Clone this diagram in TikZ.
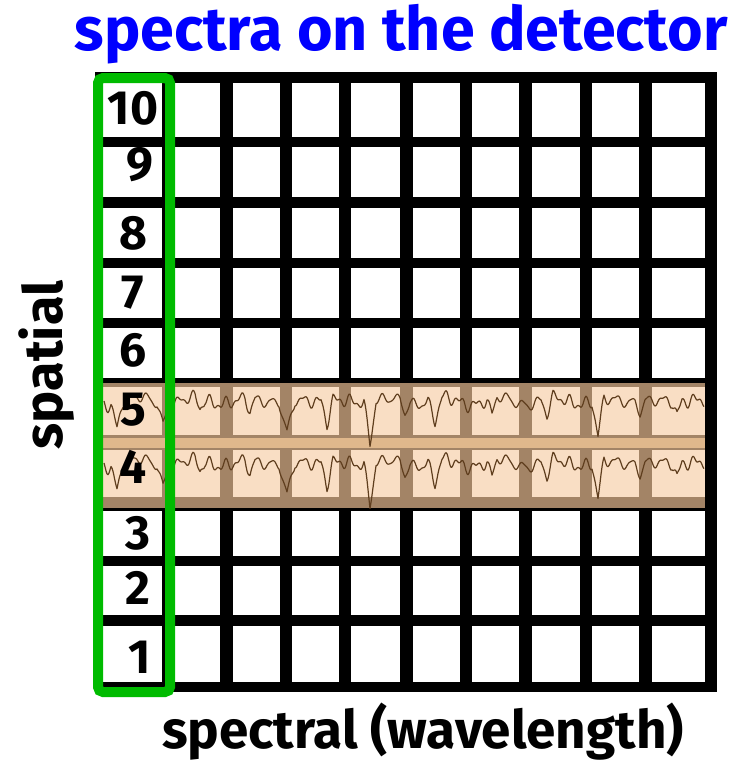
\documentclass[tikz,border=0pt]{standalone}
\usepackage{fontspec}
\setmainfont{Fira Sans}
\definecolor{titleblue}{RGB}{0,0,255}
\definecolor{boxgreen}{RGB}{0,187,0}
\definecolor{bandbrown}{RGB}{163,132,102}
\definecolor{bandpeach}{RGB}{249,222,196}
\definecolor{bandmid}{RGB}{224,184,140}
\definecolor{specline}{RGB}{95,62,30}

\begin{document}
\begin{tikzpicture}[x=1pt, y=-1pt, every node/.style={font=\bfseries},
  declare function={dip(\u,\c,\d,\w)=\d*max(0,1-abs(\u-\c)/\w);
    spec(\u)=4.5*sin(23*\u)+4*sin(25*\u)*sin(19*\u+30)+2.5*sin(17*\u+10)*sin(24*\u)+2*sin(7*\u)
      +dip(\u,13,24,6)+dip(\u,59,20,6)+dip(\u,96,10,5)+dip(\u,146,12,5)
      +dip(\u,183,32,8)+dip(\u,223,22,6)+dip(\u,266,42,6)+dip(\u,301,10,5)
      +dip(\u,331,22,7)+dip(\u,388,18,5)+dip(\u,443,16,6)+dip(\u,494,36,6)
      +dip(\u,536,10,5)+dip(\u,573,14,5);}]
  \useasboundingbox (0,0) rectangle (731,761);
  % detector pixels
  \fill[black] (95,72) rectangle (717,692);
  \foreach \t/\b in {83/137, 147/197, 208/258, 268/318, 328/378, 511/556, 566/615, 626/682} {
    \foreach \l/\r in {103/162, 174/220, 233/280, 292/339, 351/400, 413/460, 472/519, 532/580, 592/639, 652/705} {
      \fill[white] (\l,\t) rectangle (\r,\b);
    }
  }
  % rows 5 and 4 carry the spectra
  \fill[bandbrown] (102,383) rectangle (705,508);
  \foreach \t/\b in {387/435, 450/497} {
    \foreach \l/\r in {103/162, 174/220, 233/280, 292/339, 351/400, 413/460, 472/519, 532/580, 592/639, 652/705} {
      \fill[bandpeach] (\l,\t) rectangle (\r,\b);
    }
  }
  \fill[bandmid] (102,438) rectangle (705,448);
  \foreach \yb in {401, 463} {
    \draw[specline, line width=1.2, line join=round] plot[domain=0:600, samples=601] ({104+\x}, {\yb+spec(\x)});
  }
  % row numbers
  \foreach \n/\x/\y in {10/133/108, 9/140/165, 8/133/233, 7/133/293, 6/133/350, 5/133/410, 4/133/467, 3/138/533, 2/138/588, 1/140/657} {
    \node[font=\fontsize{48}{50}\bfseries] (row\n) at (\x,\y) {\n};
  }
  \draw[boxgreen, line width=10, rounded corners=5] (98,78) rectangle (170,692);
  % labels
  \node[titleblue, anchor=base, font=\fontsize{61}{64}\bfseries] (title) at (401,50) {spectra on the detector};
  \node[rotate=90, anchor=base, font=\fontsize{54}{60}\bfseries] (spatial) at (62,365) {spatial};
  \node[anchor=base, font=\fontsize{53}{56}\bfseries] (spectral) at (423,748) {spectral (wavelength)};
\end{tikzpicture}
\end{document}
